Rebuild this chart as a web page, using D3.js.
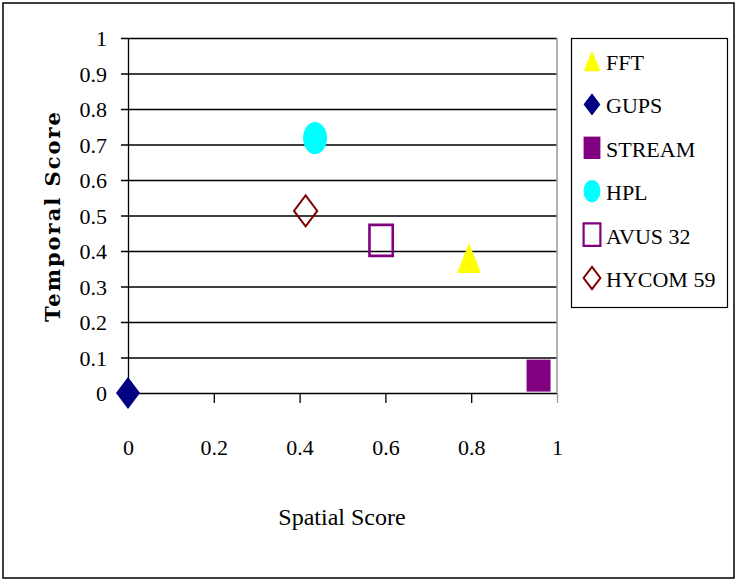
<!DOCTYPE html>
<html>
<head>
<meta charset="utf-8">
<script src="https://cdn.jsdelivr.net/npm/d3@7"></script>
<style>
  body { margin: 0; background: #fff; }
</style>
</head>
<body>
<div class="js-chart"></div>
<script>
// chart data
let benchmarks = ["FFT", "GUPS", "STREAM", "HPL", "AVUS 32", "HYCOM 59"];
let spatialScore = [0.795, 0, 0.957, 0.436, 0.59, 0.414];
let temporalScore = [0.38, 0, 0.049, 0.718, 0.43, 0.513];
let shapes = ["triangle", "diamond", "square", "circle", "square", "diamond"];
let fills = ["#ffff00", "#000080", "#800080", "#00ffff", "none", "none"];
let strokes = ["none", "none", "none", "none", "#800080", "#800000"];
let xTicks = [0, 0.2, 0.4, 0.6, 0.8, 1];

var SERIF = '"Liberation Serif", "Times New Roman", serif';
var width = 736;
var height = 580;

var svg = d3.select('.js-chart').append('svg')
  .attr('width', width)
  .attr('height', height);

// outer frame
svg.append('rect')
  .attr('x', 3).attr('y', 3)
  .attr('width', 731).attr('height', 575)
  .attr('fill', 'none')
  .attr('stroke', '#000')
  .attr('stroke-width', 1.5);

var x = d3.scaleLinear().domain([0, 1]).range([128, 557]);
var y = d3.scaleLinear().domain([0, 1]).range([393, 38]);

// horizontal grid lines (they poke out left of the axis like ticks)
var grid = svg.append('g')
  .attr('transform', 'translate(121,0)')
  .call(d3.axisLeft(y).ticks(10).tickSize(-(x(1) - 121)).tickFormat(''));
grid.select('.domain').remove();
grid.selectAll('line').attr('stroke', '#000').attr('stroke-width', 1.3);

// y axis
var yAxis = svg.append('g')
  .attr('transform', `translate(${x(0)},0)`)
  .call(d3.axisLeft(y).ticks(10).tickSize(0).tickPadding(21).tickFormat(d3.format('~g')));
yAxis.select('.domain').attr('stroke', '#000').attr('stroke-width', 1.3);
yAxis.selectAll('text')
  .style('font-family', SERIF)
  .style('font-size', '22px')
  .attr('fill', '#000')
  .attr('dy', '0.36em');

// x axis
var xAxis = svg.append('g')
  .attr('transform', `translate(0,${y(0)})`)
  .call(d3.axisBottom(x).tickValues(xTicks).tickSize(10).tickPadding(36).tickFormat(d3.format('~g')));
xAxis.select('.domain').remove();
xAxis.selectAll('line').attr('stroke', (d) => d === 1 ? '#999' : '#000').attr('stroke-width', 1.3);
xAxis.selectAll('text')
  .style('font-family', SERIF)
  .style('font-size', '22px')
  .attr('fill', '#000');

// right border of the plot
svg.append('line')
  .attr('x1', x(1)).attr('x2', x(1))
  .attr('y1', y(1)).attr('y2', y(0))
  .attr('stroke', '#999')
  .attr('stroke-width', 1.5);

// axis titles
svg.append('text')
  .attr('transform', 'translate(60,216)rotate(-90)')
  .style('text-anchor', 'middle')
  .style('font-family', '"DejaVu Serif", serif')
  .style('font-weight', 'bold')
  .style('font-size', '21px')
  .style('letter-spacing', '2px')
  .text('Temporal Score');

svg.append('text')
  .attr('x', 342)
  .attr('y', 525)
  .style('text-anchor', 'middle')
  .style('font-family', SERIF)
  .style('font-size', '24px')
  .text('Spatial Score');

// marker path, w x h box centred on 0,0
function markerPath(shape, k) {
  var w = 24 * k, h = 32 * k;
  switch (shape) {
    case 'triangle':
      return `M0,${-h / 2 + 1}L${w / 2},${h / 2 - 1}L${-w / 2},${h / 2 - 1}Z`;
    case 'diamond':
      return `M0,${-h / 2}L${w / 2},0L0,${h / 2}L${-w / 2},0Z`;
    case 'square':
      return `M${-w / 2},${-h / 2}h${w}v${h}h${-w}Z`;
    case 'circle':
      var rx = w / 2, ry = h / 2;
      return `M${-rx},0a${rx},${ry} 0 1,0 ${w},0a${rx},${ry} 0 1,0 ${-w},0Z`;
  }
}

var idx = d3.range(benchmarks.length);

svg.append('g')
  .selectAll('path')
  .data(idx)
  .enter()
  .append('path')
  .attr('transform', (i) => `translate(${x(spatialScore[i])},${y(temporalScore[i])})`)
  .attr('d', (i) => markerPath(shapes[i], fills[i] === 'none' ? 0.97 : 1))
  .attr('fill', (i) => fills[i])
  .attr('stroke', (i) => strokes[i])
  .attr('stroke-width', (i) => shapes[i] === 'square' ? 2.6 : 2);

// legend
var legend = svg.append('g');
legend.append('rect')
  .attr('x', 571.5).attr('y', 38.5)
  .attr('width', 156).attr('height', 269)
  .attr('fill', '#fff')
  .attr('stroke', '#000')
  .attr('stroke-width', 1.2);

var item = legend.selectAll('.legend-item')
  .data(idx)
  .enter()
  .append('g')
  .attr('class', 'legend-item')
  .attr('transform', (i) => `translate(592,${61 + i * 43.4})`);

item.append('path')
  .attr('d', (i) => markerPath(shapes[i], 0.7))
  .attr('fill', (i) => fills[i] === 'none' ? '#fff' : fills[i])
  .attr('stroke', (i) => strokes[i])
  .attr('stroke-width', (i) => shapes[i] === 'square' ? 2.2 : 2);

item.append('text')
  .attr('x', 14)
  .attr('y', 9)
  .style('font-family', SERIF)
  .style('font-size', '22px')
  .text((i) => benchmarks[i]);
</script>
</body>
</html>
